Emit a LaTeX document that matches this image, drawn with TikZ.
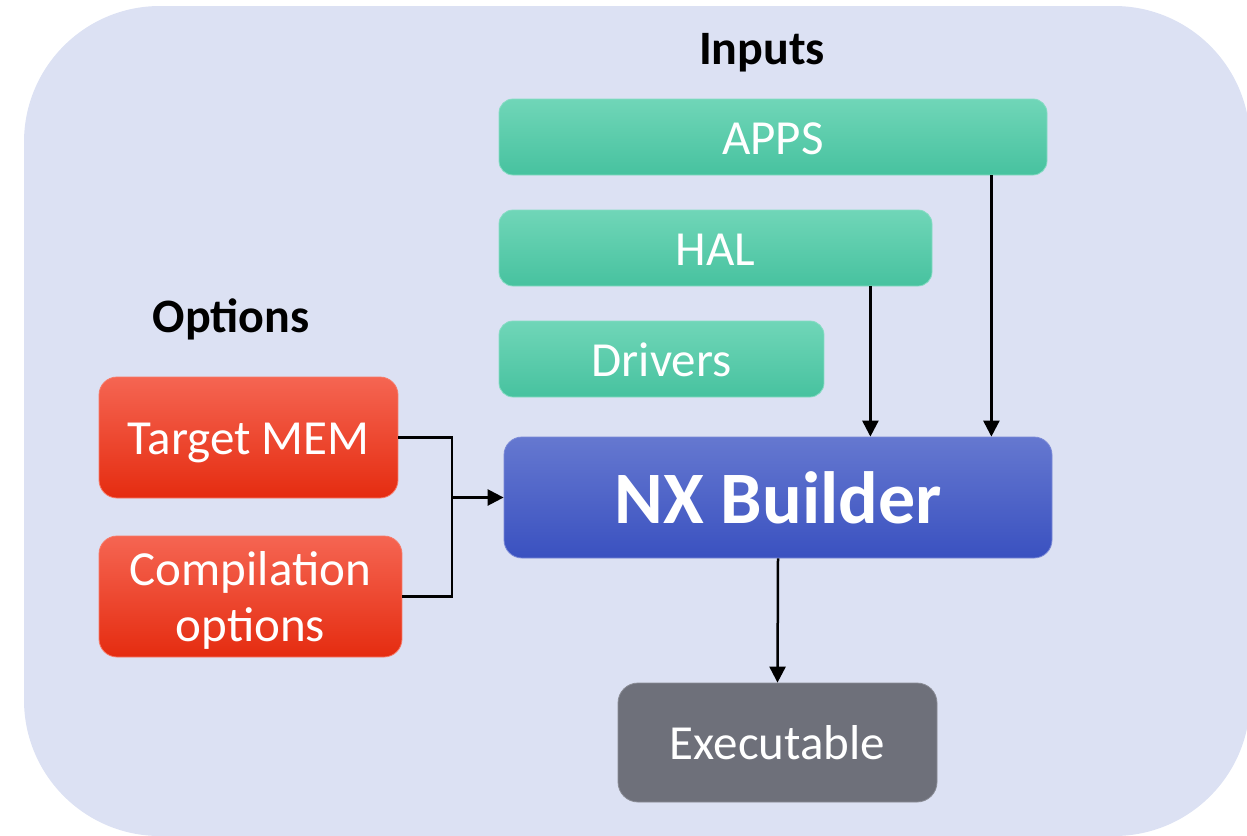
\documentclass[tikz,border=0pt]{standalone}
\usepackage{fontspec}
\setmainfont{Carlito}
\usetikzlibrary{arrows.meta,calc}

\definecolor{panel}{HTML}{DCE1F3}
\definecolor{grnT}{HTML}{70D6B8}
\definecolor{grnM}{HTML}{55D0AE}
\definecolor{grnB}{HTML}{47C29F}
\definecolor{grnE}{HTML}{86DCC3}
\definecolor{bluT}{HTML}{6578D0}
\definecolor{bluM}{HTML}{4A60CB}
\definecolor{bluB}{HTML}{3A51C0}
\definecolor{bluE}{HTML}{7A89D6}
\definecolor{redT}{HTML}{F56552}
\definecolor{redM}{HTML}{FC3C1D}
\definecolor{redB}{HTML}{E52C10}
\definecolor{redE}{HTML}{F77A68}
\definecolor{gryF}{HTML}{6E707A}
\definecolor{gryE}{HTML}{8A8C95}

\tikzset{
  box/.style={rounded corners=14pt, line width=0.8pt, text=white, align=center,
    inner sep=0pt, font=\fontsize{49}{56}\selectfont},
  oneline/.style={text height=40pt, text depth=6pt},
  inbox/.style={box, oneline, draw=grnE, top color=grnT, middle color=grnM, bottom color=grnB,
    minimum height=76pt},
  optbox/.style={box, draw=redE, top color=redT, middle color=redM, bottom color=redB,
    minimum height=121pt, rounded corners=18pt},
  corebox/.style={box, draw=bluE, top color=bluT, middle color=bluM, bottom color=bluB,
    rounded corners=18pt, font=\fontsize{74}{80}\selectfont\bfseries},
  outbox/.style={box, oneline, draw=gryE, fill=gryF, rounded corners=20pt},
  heading/.style={font=\fontsize{48}{56}\selectfont\bfseries, text=black, inner sep=0pt},
  link/.style={line width=2.5pt, draw=black},
  arr/.style={link, -{Triangle[length=16pt,width=16pt]}}
}

\begin{document}
\begin{tikzpicture}[x=1pt,y=-1pt]
  \useasboundingbox (0,0) rectangle (1247,835);
  \begin{scope}
    \clip (0,0) rectangle (1247,835);
    \fill[panel, rounded corners=136pt] (24,6) rectangle (1250,836);
  \end{scope}

  % section headings
  \node[heading] (inputs) at (762,53) {Inputs};
  \node[heading] (options) at (231,319) {Options};

  % input sources
  \node[inbox, minimum width=548pt] (apps) at (773,137) {APPS};
  \node[inbox, minimum width=433pt] (hal) at (715.5,248) {HAL};
  \node[inbox, minimum width=325pt] (drivers) at (661.5,359) {Drivers};

  % build options
  \node[optbox, oneline, minimum width=299pt] (target) at (248.5,437.5) {Target MEM};
  \node[optbox, minimum width=303pt] (compile) at (250.5,596.5) {\rule{0pt}{42pt}Compilation\\options};

  % builder and result
  \node[corebox, minimum width=548pt, minimum height=121pt] (nx) at (778,497.5) {NX Builder};
  \node[outbox, minimum width=319pt, minimum height=119pt] (exe) at (777.5,742.5) {Executable};

  % connectors
  \draw[arr] ([xshift=-62pt]hal.south east) -- ([xshift=-62pt]hal.south east |- nx.north);
  \draw[arr] ([xshift=-56pt]apps.south east) -- ([xshift=-56pt]apps.south east |- nx.north);

  \coordinate (bus) at (452,497.5);
  \draw[link] (target.east) -| (bus) |- (compile.east);
  \draw[arr] (bus) -- (nx.west);

  \draw[arr] (nx.south) -- (exe.north);
\end{tikzpicture}
\end{document}
